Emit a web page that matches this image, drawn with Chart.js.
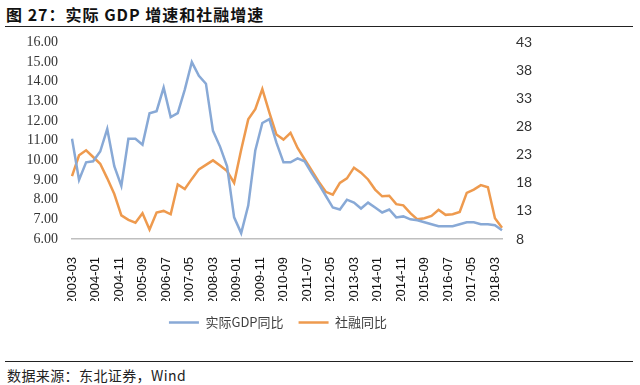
<!DOCTYPE html>
<html>
<head>
<meta charset="utf-8">
<script src="https://cdn.jsdelivr.net/npm/chart.js@4.4.0/dist/chart.umd.min.js"></script>
<style>
    html, body { margin: 0; padding: 0; background: #fff; }
    body { width: 640px; height: 385px; position: relative; overflow: hidden; }
    .title { position: absolute; left: 6px; top: 2px; font: bold 16px "Noto Sans CJK SC"; letter-spacing: 1px; color: #111; white-space: nowrap; }
    .rule { position: absolute; left: 5px; width: 628px; height: 0; border-top: 1.5px solid #222; }
    #wrap { position: absolute; left: 0; top: 20px; width: 640px; height: 319px; }
    .source { position: absolute; left: 7px; top: 365px; font: 14px "Noto Sans CJK SC"; letter-spacing: 0.4px; color: #222; white-space: nowrap; }
</style>
</head>
<body>
<div class="title">图 27：实际 GDP 增速和社融增速</div>
<div class="rule" style="top:26px"></div>
<div id="wrap"><canvas id="statsChart"></canvas></div>
<div class="rule" style="top:361px"></div>
<div class="source">数据来源：东北证券，Wind</div>
<script>
// месячная ось 2003-03 .. 2018-06
const months = [];
for (let y = 2003; y <= 2018; y++) {
    for (let m = 1; m <= 12; m++) {
        if ((y === 2003 && m < 3) || (y === 2018 && m > 6)) continue;
        months.push(y + '-' + String(m).padStart(2, '0'));
    }
}

const tickLabels = ['2003-03', '2004-01', '2004-11', '2005-09', '2006-07', '2007-05', '2008-03',
    '2009-01', '2009-11', '2010-09', '2011-07', '2012-05', '2013-03', '2014-01', '2014-11',
    '2015-09', '2016-07', '2017-05', '2018-03'];

const quarters = months.filter(m => ['03', '06', '09', '12'].includes(m.slice(5)));

// 实际GDP同比, %
const gdpYoY = [
    11.1, 9.0, 9.9, 9.95,
    10.45, 11.6, 9.7, 8.7,
    11.1, 11.1, 10.8, 12.4,
    12.5, 13.7, 12.2, 12.4,
    13.6, 15.0, 14.3, 13.9,
    11.5, 10.7, 9.7, 7.1,
    6.3, 7.7, 10.5, 11.9,
    12.1, 10.9, 9.9, 9.9,
    10.1, 9.95, 9.35, 8.8,
    8.2, 7.6, 7.5, 8.0,
    7.85, 7.55, 7.85, 7.6,
    7.35, 7.5, 7.1, 7.15,
    7.0, 6.95, 6.85, 6.75,
    6.65, 6.65, 6.65, 6.75,
    6.85, 6.85, 6.75, 6.75,
    6.7, 6.45
];

// 社融同比, % (правая ось)
const sfYoY = [
    19.2, 22.9, 23.8, 22.6,
    21.4, 18.8, 16.0, 12.2,
    11.4, 10.9, 12.6, 9.7,
    12.7, 13.0, 12.4, 17.7,
    16.9, 18.7, 20.4, 21.2,
    22.0, 21.1, 20.1, 18.0,
    23.9, 29.3, 31.1, 34.7,
    30.5, 26.6, 25.7, 26.9,
    24.2, 22.2, 20.2, 18.2,
    16.4, 15.9, 18.0, 18.8,
    20.7, 19.8, 18.6, 16.8,
    15.6, 15.7, 14.2, 14.0,
    12.6, 11.5, 11.7, 12.1,
    13.2, 12.3, 12.4, 12.8,
    16.2, 16.8, 17.6, 17.2,
    11.7, 10.0
];

const ctx = document.getElementById('statsChart').getContext('2d');

// сдвиг легенды немного влево, как в оригинале
const legendShift = {
    id: 'legendShift',
    afterLayout(chart) {
        chart.legend.left -= 9;
        chart.legend.right -= 9;
    }
};

const chart = new Chart(ctx, {
    type: 'line',
    data: {
        labels: months,
        datasets: [{
            label: '实际GDP同比',
            data: quarters.map((q, i) => ({ x: q, y: gdpYoY[i] })),
            borderColor: '#88a9d6',
            backgroundColor: '#88a9d6',
            borderWidth: 2.5,
            pointRadius: 0,
            tension: 0,
            yAxisID: 'y'
        }, {
            label: '社融同比',
            data: quarters.map((q, i) => ({ x: q, y: sfYoY[i] })),
            borderColor: '#ee9a4e',
            backgroundColor: '#ee9a4e',
            borderWidth: 2.5,
            pointRadius: 0,
            tension: 0,
            yAxisID: 'y1'
        }]
    },
    plugins: [legendShift],
    options: {
        responsive: true,
        maintainAspectRatio: false,
        animation: false,
        layout: { padding: 0 },
        plugins: {
            legend: {
                position: 'bottom',
                fullSize: false,
                labels: {
                    usePointStyle: true,
                    pointStyle: 'line',
                    pointStyleWidth: 30,
                    padding: 15,
                    color: '#404040',
                    font: { family: '"Noto Sans CJK SC"', size: 13 }
                }
            },
            tooltip: { enabled: false }
        },
        scales: {
            x: {
                type: 'category',
                offset: false,
                grid: { display: false },
                border: { color: '#bfbfbf', width: 1.5 },
                ticks: {
                    autoSkip: false,
                    minRotation: 90,
                    maxRotation: 90,
                    padding: 10,
                    color: '#111',
                    font: { family: '"Liberation Sans"', size: 13 },
                    callback: function(value) {
                        const label = this.getLabelForValue(value);
                        return tickLabels.includes(label) ? label : '';
                    }
                },
                afterFit: scale => { scale.height = 62; }
            },
            y: {
                position: 'left',
                min: 6,
                max: 16,
                grid: { display: false, drawTicks: false },
                border: { display: false },
                ticks: {
                    stepSize: 1,
                    autoSkip: false,
                    padding: 14,
                    color: '#333',
                    font: { family: '"Liberation Serif"', size: 14 },
                    callback: v => v.toFixed(2)
                },
                afterFit: scale => { scale.width = 72; }
            },
            y1: {
                position: 'right',
                min: 8,
                max: 43,
                grid: { display: false, drawTicks: false },
                border: { display: false },
                ticks: {
                    stepSize: 5,
                    autoSkip: false,
                    padding: 14,
                    color: '#333',
                    font: { family: 'Lato', size: 14 }
                },
                afterFit: scale => { scale.width = 138; }
            }
        }
    }
});
</script>
</body>
</html>
